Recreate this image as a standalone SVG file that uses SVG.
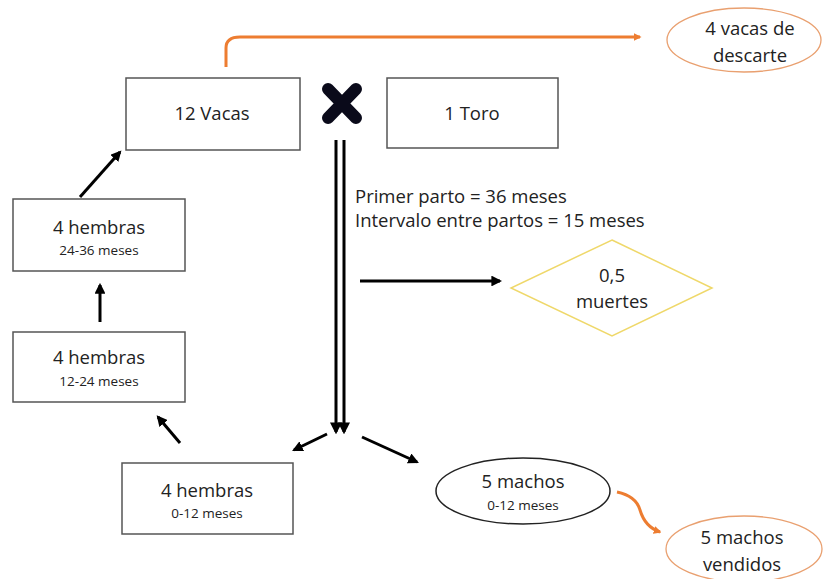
<svg xmlns="http://www.w3.org/2000/svg" width="826" height="579" viewBox="0 0 826 579">
<defs>
<style>
.box{fill:#fff;stroke:#555;stroke-width:1.5}
.t{font-family:"Open Sans","Liberation Sans",sans-serif;fill:#222;text-anchor:middle}
.big{font-size:18.5px}
.small{font-size:13.5px}
.ln{stroke:#000;stroke-width:3;fill:none}
.or{stroke:#ED7D31;stroke-width:3;fill:none}
</style>
<marker id="ah" viewBox="0 0 10 10" refX="8" refY="5" markerWidth="3.6" markerHeight="3.6" orient="auto" markerUnits="strokeWidth"><path d="M0,0 L10,5 L0,10 z" fill="#000"/></marker>
<marker id="ahd" viewBox="0 0 10 10" refX="8" refY="5" markerWidth="4" markerHeight="4" orient="auto" markerUnits="strokeWidth"><path d="M0,0 L10,5 L0,10 z" fill="#000"/></marker>
<marker id="aho" viewBox="0 0 10 10" refX="8" refY="5" markerWidth="2.6" markerHeight="2.6" orient="auto" markerUnits="strokeWidth"><path d="M0,0 L10,5 L0,10 z" fill="#ED7D31"/></marker>
</defs>
<rect width="826" height="579" fill="#fff"/>

<g id="vacas"><rect class="box" x="126" y="78" width="174" height="72"/><text class="t big" x="212" y="120">12 Vacas</text></g>
<g id="cross"><path d="M328,89 L356,118 M356,89 L328,118" stroke="#0a0a1a" stroke-width="12" stroke-linecap="round"/></g>
<g id="toro"><rect class="box" x="387" y="78" width="171" height="70"/><text class="t big" x="472" y="120">1 Toro</text></g>
<g id="descarte"><ellipse cx="744" cy="40" rx="77" ry="32" fill="#fff" stroke="#E9A070" stroke-width="1.3"/><text class="t big" x="750" y="35">4 vacas de</text><text class="t big" x="750" y="62">descarte</text></g>
<g id="h2436"><rect class="box" x="13" y="199" width="172" height="72"/><text class="t big" x="99" y="234">4 hembras</text><text class="t small" x="99" y="255">24-36 meses</text></g>
<g id="h1224"><rect class="box" x="13" y="332" width="172" height="70"/><text class="t big" x="99" y="364">4 hembras</text><text class="t small" x="99" y="386">12-24 meses</text></g>
<g id="h012"><rect class="box" x="122" y="463" width="171" height="71"/><text class="t big" x="207" y="497">4 hembras</text><text class="t small" x="207" y="518">0-12 meses</text></g>
<g id="machos"><ellipse cx="523" cy="491" rx="87" ry="33" fill="#fff" stroke="#222" stroke-width="1.5"/><text class="t big" x="523" y="488">5 machos</text><text class="t small" x="523" y="510">0-12 meses</text></g>
<g id="vendidos"><ellipse cx="744" cy="549" rx="78" ry="33" fill="#fff" stroke="#E9A070" stroke-width="1.3"/><text class="t big" x="742" y="544">5 machos</text><text class="t big" x="742" y="571">vendidos</text></g>
<g id="muertes"><polygon points="612,240 712,288 612,336 511,288" fill="#fff" stroke="#EFD86A" stroke-width="1.5"/><text class="t big" x="612" y="282">0,5</text><text class="t big" x="612" y="308">muertes</text></g>
<g id="notes"><text class="t big" x="355" y="203" style="text-anchor:start">Primer parto = 36 meses</text><text class="t big" x="355" y="227" style="text-anchor:start">Intervalo entre partos = 15 meses</text></g>

<g id="connectors">
<path class="or" d="M226,67 V48 Q226,37 240,37 H640" marker-end="url(#aho)"/>
<line class="ln" x1="336" y1="140" x2="336" y2="432" marker-end="url(#ahd)" stroke-width="2.5"/>
<line class="ln" x1="344" y1="140" x2="344" y2="432" marker-end="url(#ahd)" stroke-width="2.5"/>
<line class="ln" x1="360" y1="281" x2="500" y2="281" marker-end="url(#ah)"/>
<line class="ln" x1="327" y1="434" x2="294" y2="450" marker-end="url(#ah)"/>
<line class="ln" x1="362" y1="437" x2="417" y2="462" marker-end="url(#ah)"/>
<line class="ln" x1="180" y1="443" x2="158" y2="417" marker-end="url(#ah)"/>
<line class="ln" x1="100" y1="322" x2="100" y2="285" marker-end="url(#ah)"/>
<line class="ln" x1="80" y1="197" x2="120" y2="152" marker-end="url(#ah)"/>
<path class="or" d="M617,492 Q636,496 640,510 Q645,527 660,532" marker-end="url(#aho)"/>
</g>
</svg>
